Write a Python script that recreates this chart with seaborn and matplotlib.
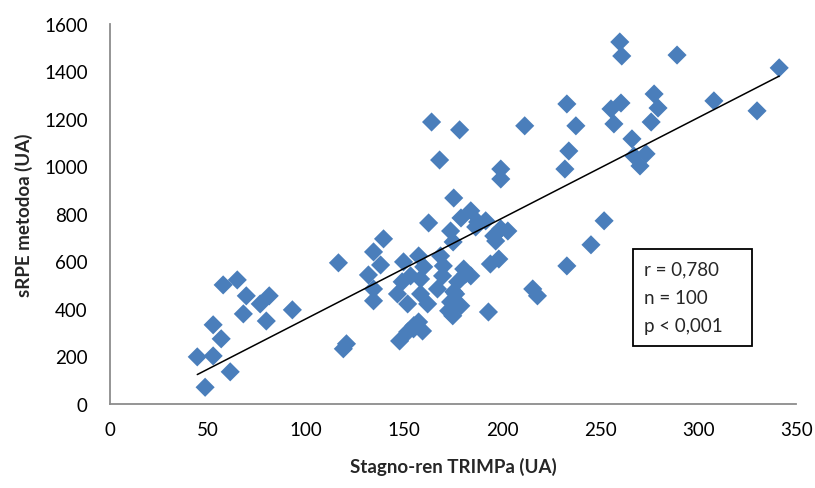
import matplotlib.pyplot as plt
import numpy as np
import pandas as pd
import seaborn as sb
from matplotlib.patches import Rectangle

# Stagno TRIMP (x) vs sRPE (y)
trimp = [44.5, 52.6, 48.5, 61.3, 56.7, 52.6, 57.7, 64.9, 69.5, 68.0,
         76.6, 81.2, 79.7, 93.0, 116.5, 119.0, 120.6, 134.4, 131.8, 134.4,
         139.5, 138.0, 134.4, 162.5, 175.3, 184.0, 179.0, 187.5, 173.7, 175.0,
         168.6, 170.0, 157.4, 149.7, 160.0, 153.3, 149.0, 158.4, 146.6, 151.8,
         158.4, 162.0, 167.0, 169.6, 180.4, 184.0, 177.3, 175.3, 173.7, 172.7,
         178.9, 174.8, 193.0, 157.4, 154.8, 159.4, 151.8, 147.7, 194.0, 198.3,
         195.7, 199.3, 202.9, 196.7, 199.3, 164.0, 178.3, 211.5, 168.1, 199.3,
         233.0, 237.6, 234.0, 232.0, 255.5, 260.6, 257.0, 266.2, 267.2, 270.3,
         276.0, 191.6, 186.5, 252.0, 245.3, 233.0, 215.6, 218.0, 260.0, 261.0,
         289.2, 341.3, 277.5, 279.5, 308.0, 330.0, 273.4, 181.4, 176.3, 155.0]
srpe = [198, 202, 70, 135, 274, 333, 501, 522, 455, 379,
        421, 455, 349, 396, 594, 232, 253, 640, 543, 434,
        695, 585, 484, 762, 867, 813, 783, 766, 728, 682,
        623, 581, 623, 598, 577, 539, 514, 526, 463, 421,
        463, 421, 484, 539, 568, 539, 514, 472, 429, 392,
        413, 371, 387, 345, 316, 307, 303, 265, 589, 610,
        707, 737, 728, 686, 947, 1187, 1154, 1171, 1027, 989,
        1263, 1171, 1065, 989, 1242, 1267, 1179, 1116, 1044, 1002,
        1187, 771, 745, 771, 670, 581, 484, 455, 1524, 1465,
        1469, 1415, 1305, 1246, 1276, 1234, 1053, 547, 463, 330]

stats_lines = ["r = 0,780", "n = 100", "p < 0,001"]

df = pd.DataFrame({"trimp": trimp, "srpe": srpe})

sb.set_style("white")
plt.rcParams["font.family"] = ["Lato", "DejaVu Sans"]

fig = plt.figure(figsize=(8.15, 4.89), dpi=100)
ax = fig.add_axes([0.135, 0.172, 0.842, 0.777])

sb.scatterplot(data=df, x="trimp", y="srpe", marker="D", s=95,
               color="#4A7EBB", edgecolor="none", ax=ax, zorder=2)

# linear trendline over the data range
slope, icpt = np.polyfit(df["trimp"], df["srpe"], 1)
xs = np.array([df["trimp"].min(), df["trimp"].max()])
ax.plot(xs, slope * xs + icpt, color="black", lw=1.1, zorder=3)

ax.set_xlim(0, 350)
ax.set_ylim(0, 1600)
ax.set_xticks(range(0, 351, 50))
ax.set_yticks(range(0, 1601, 200))
ax.tick_params(axis="both", length=0, labelsize=13.5, colors="black")
ax.tick_params(axis="y", pad=16)
ax.tick_params(axis="x", pad=12)

for s in ["top", "right"]:
    ax.spines[s].set_visible(False)
for s in ["left", "bottom"]:
    ax.spines[s].set_color("#8c8c8c")
    ax.spines[s].set_linewidth(1.3)

ax.set_xlabel("Stagno-ren TRIMPa (UA)", fontsize=13.5, fontweight="bold",
              labelpad=14)
ax.set_ylabel("sRPE metodoa (UA)", fontsize=13.5, fontweight="bold",
              labelpad=8)

# stats box
ax.add_patch(Rectangle((0.762, 0.153), 0.174, 0.255, transform=ax.transAxes,
                       fill=False, edgecolor="black", lw=1.3, zorder=4))
for i, line in enumerate(stats_lines):
    ax.text(0.778, 0.355 - i * 0.074, line, transform=ax.transAxes,
            fontsize=13.5, va="center", ha="left", zorder=5)

fig.savefig("out.png", dpi=100)
